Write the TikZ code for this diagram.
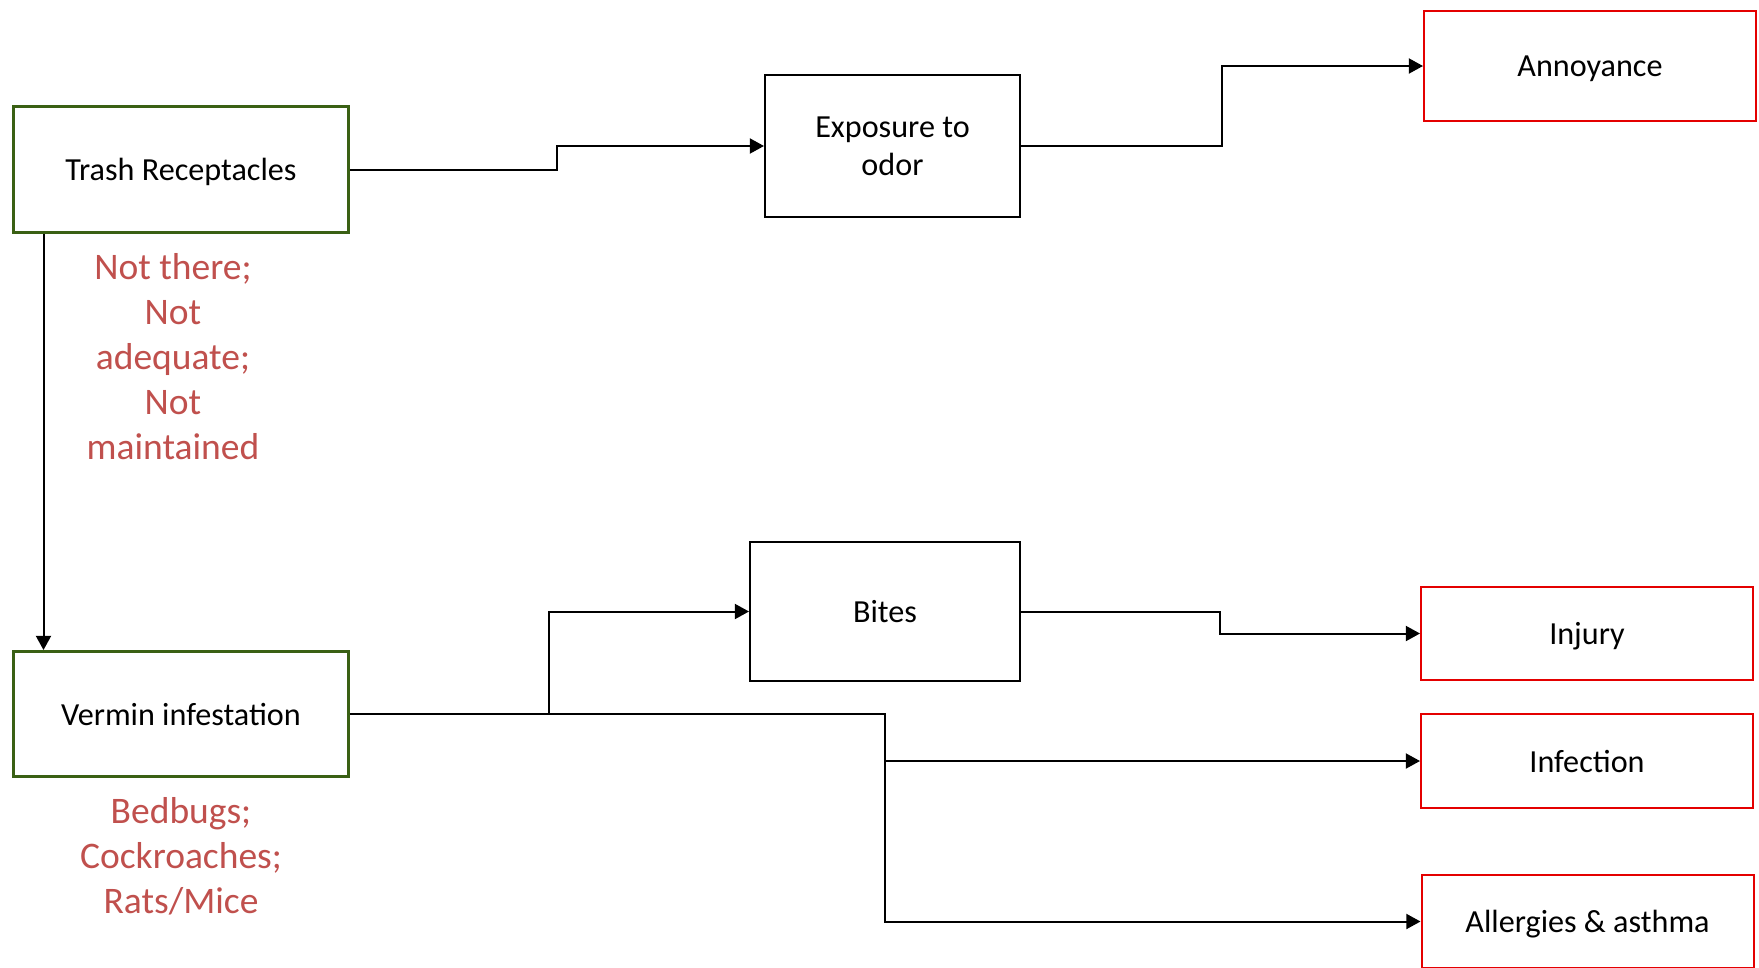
\documentclass[tikz,border=0pt]{standalone}
\usepackage{fontspec}
\setmainfont{Carlito}
\usetikzlibrary{arrows.meta}
\definecolor{boxgreen}{RGB}{58,96,20}
\definecolor{boxred}{RGB}{228,0,0}
\definecolor{labelred}{RGB}{192,80,77}
\tikzset{
  boxfont/.style={font=\fontsize{19.3pt}{22.8pt}\selectfont, text depth=0pt},
  srcbox/.style={draw=boxgreen, line width=1.8pt, rectangle, inner sep=0pt, align=center, boxfont},
  midbox/.style={draw=black, line width=1.2pt, rectangle, inner sep=0pt, align=center, boxfont},
  outbox/.style={draw=boxred, line width=1.2pt, rectangle, inner sep=0pt, align=center, boxfont},
  redlabel/.style={text=labelred, align=center, inner sep=0pt, font=\fontsize{22.5pt}{27pt}\selectfont},
  arr/.style={draw=black, line width=1.2pt, -{Triangle[length=8.5pt,width=9pt]}}
}
\begin{document}
\begin{tikzpicture}[x=0.6pt, y=-0.6pt]
\useasboundingbox (0,0) rectangle (1759,967);
% boxes
\node[srcbox, minimum width=201pt, minimum height=75.6pt] (trash) at (181,169.5) {Trash Receptacles};
\node[srcbox, minimum width=201pt, minimum height=75pt] (vermin) at (181,714) {Vermin infestation};
\node[midbox, minimum width=153pt, minimum height=85.2pt] (expo) at (892.5,146) {Exposure to\\odor};
\node[midbox, minimum width=162pt, minimum height=83.4pt] (bites) at (885,611.5) {Bites};
\node[outbox, minimum width=199.2pt, minimum height=66pt] (annoy) at (1590,66) {Annoyance};
\node[outbox, minimum width=199.2pt, minimum height=55.8pt] (injury) at (1587,633.5) {Injury};
\node[outbox, minimum width=199.2pt, minimum height=56.4pt] (infect) at (1587,761) {Infection};
\node[outbox, minimum width=199.2pt, minimum height=55.8pt] (allerg) at (1587.5,921.5) {Allergies \& asthma};
% labels
\node[redlabel] (tlabel) at (173,357) {Not there;\\Not\\adequate;\\Not\\maintained};
\node[redlabel] (vlabel) at (181,856) {Bedbugs;\\Cockroaches;\\Rats/Mice};
% connectors
\draw[arr] (trash.east) -- ++(207,0) |- (expo.west);
\draw[arr] (expo.east) -- ++(201,0) |- (annoy.west);
\draw[arr] ([xshift=18.9pt]trash.south west) -- ([xshift=18.9pt]vermin.north west);
\draw[arr] (vermin.east) -- ++(535,0) coordinate (j2) |- (allerg.west);
\coordinate (j1) at (549,714);
\draw[arr] (j1) |- (bites.west);
\draw[arr] (j2 |- infect.west) -- (infect.west);
\draw[arr] (bites.east) -- ++(199,0) |- (injury.west);
\end{tikzpicture}
\end{document}
